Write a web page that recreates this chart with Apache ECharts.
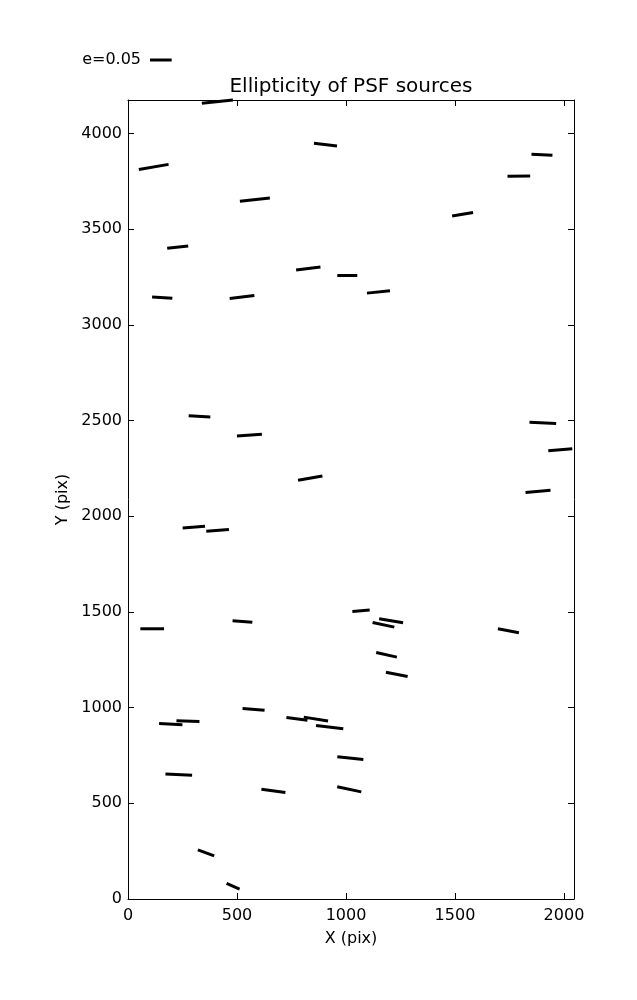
<!DOCTYPE html>
<html><head><meta charset="utf-8">
<script src="https://cdn.jsdelivr.net/npm/echarts@6/dist/echarts.min.js"></script>
<style>html,body{margin:0;padding:0;background:#fff}#c{width:637px;height:1000px}</style>
</head><body><div id="c"></div>
<script>
// Source positions (pix), ellipticity, position angle (deg)
const xs = [410,118,582,228,157,523,906,827,1006,1149,1899,1793,1535,328,557,836,1903,1983,1881,302,411,111,525,1069,1207,1172,1186,1233,1745,576,196,275,233,667,358,482,775,862,925,1020,1015];
const ys = [4167,3825,3654,3406,3142,3146,3942,3294,3258,3172,3889,3777,3578,2522,2424,2199,2488,2348,2130,1943,1926,1412,1450,1506,1454,1433,1276,1174,1402,991,914,929,650,565,241,67,941,940,898,736,573];
const es = [0.072,0.0695,0.0695,0.0487,0.0468,0.0573,0.0534,0.0564,0.046,0.0533,0.0484,0.0523,0.049,0.05,0.0577,0.0569,0.0615,0.0555,0.0578,0.0516,0.0524,0.0546,0.0456,0.04,0.056,0.0511,0.0489,0.051,0.0493,0.0509,0.0538,0.053,0.0615,0.0558,0.04,0.0327,0.0488,0.0567,0.0634,0.0602,0.0565];
const angles = [6,10,6.3,6.3,-3.7,6.9,-6.7,7,0,5.8,-2.7,0.8,10,-3.5,3.8,10,-2.8,4.8,5.3,4.3,4.2,0,-4.9,4.4,-9.5,-12.2,-12.8,-11.3,-10.8,-4.3,-3.3,-1.7,-2.9,-7.9,-20.2,-23.5,-7.2,-9.3,-7,-5.9,-11.8];
const xTicks = {min:0, max:2046, interval:500};
const yTicks = {min:0, max:4175, interval:500};
const KEY_E = 0.05;
const SCALE = 434; // pixels per unit ellipticity

const FONT = 'DejaVu Sans';
const data = xs.map((x,i)=>[x, ys[i], es[i], angles[i]]);
const chart = echarts.init(document.getElementById('c'), null, {renderer:'canvas'});
const axisCommon = {
  type:'value', splitLine:{show:false},
  axisLine:{show:true, onZero:false, lineStyle:{color:'#000', width:1}},
  axisTick:{show:true, inside:true, length:6, lineStyle:{color:'#000', width:1}}
};
const labelStyle = {color:'#000', fontSize:16, fontFamily:FONT};
const fmt = v => String(v);
chart.setOption({
  animation:false,
  backgroundColor:'#fff',
  grid:{left:128, top:100, width:446, height:799, outerBoundsMode:'none'},
  xAxis:[
    Object.assign({}, axisCommon, xTicks, {position:'bottom',
      axisLabel:Object.assign({margin:9, showMaxLabel:false, formatter:fmt}, labelStyle),
      name:'X (pix)', nameLocation:'middle', nameGap:32, nameTextStyle:labelStyle}),
    Object.assign({}, axisCommon, xTicks, {position:'top', axisLabel:{show:false}})
  ],
  yAxis:[
    Object.assign({}, axisCommon, yTicks, {position:'left',
      axisLabel:Object.assign({margin:6, showMaxLabel:false, formatter:fmt}, labelStyle),
      name:'Y (pix)', nameLocation:'middle', nameGap:50, nameTextStyle:labelStyle}),
    Object.assign({}, axisCommon, yTicks, {position:'right', axisLabel:{show:false}})
  ],
  graphic:[
    {type:'text', x:351, y:87, style:{text:'Ellipticity of PSF sources', fill:'#000', font:'20px "DejaVu Sans"', textAlign:'center', textVerticalAlign:'middle'}},
    {type:'text', x:141, y:60, style:{text:'e='+KEY_E.toFixed(2), fill:'#000', font:'16px "DejaVu Sans"', textAlign:'right', textVerticalAlign:'middle'}},
    {type:'line', shape:{x1:150, y1:60, x2:150+KEY_E*SCALE, y2:60}, style:{stroke:'#000', lineWidth:3, lineCap:'butt'}}
  ],
  series:[{
    type:'custom',
    xAxisIndex:0, yAxisIndex:0,
    data:data,
    encode:{x:0, y:1},
    renderItem:function(params, api){
      const c = api.coord([api.value(0), api.value(1)]);
      const half = api.value(2)*SCALE/2;
      const a = api.value(3)*Math.PI/180;
      const dx = half*Math.cos(a), dy = half*Math.sin(a);
      return {type:'line', shape:{x1:c[0]-dx, y1:c[1]+dy, x2:c[0]+dx, y2:c[1]-dy},
        style:{stroke:'#000', lineWidth:3, lineCap:'butt'}};
    }
  }]
});
</script></body></html>
